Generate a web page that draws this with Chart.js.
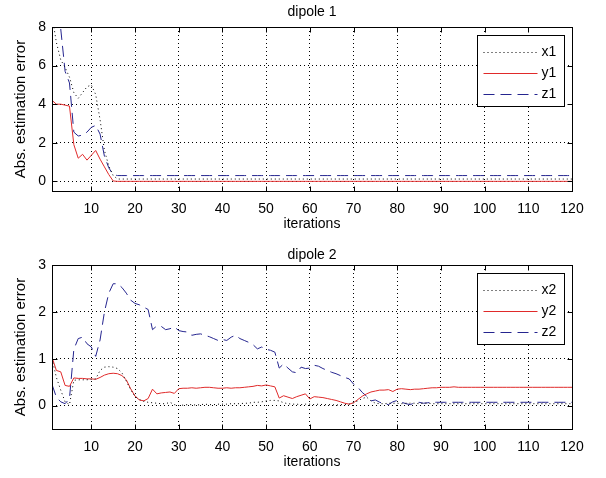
<!DOCTYPE html>
<html>
<head>
<meta charset="utf-8">
<script src="https://cdn.jsdelivr.net/npm/chart.js@4.4.0/dist/chart.umd.min.js"></script>
<style>
  html, body { margin: 0; padding: 0; background: #fff; }
  .panel { position: absolute; left: 0; }
  #p1 { top: 0; }
  #p2 { top: 240px; }
</style>
</head>
<body>
<div class="panel" id="p1"><canvas id="c1" width="606" height="240"></canvas></div>
<div class="panel" id="p2"><canvas id="c2" width="606" height="238"></canvas></div>
<script>
// iteration index (x axis)
const iterations = Array.from({ length: 120 }, (_, k) => k + 1);
const xTicks = [10, 20, 30, 40, 50, 60, 70, 80, 90, 100, 110, 120];

// dipole 1: absolute estimation error per coordinate
const dipole1X = [
  8.6, 7.2, 6.3, 5.9, 5.4, 4.6, 4.3, 4.6, 4.9, 5.0, 4.5, 3.2, 1.6, 0.8, 0.3,
  0.12, 0.12, 0.12, 0.12, 0.12, 0.12, 0.12, 0.12, 0.12, 0.12, 0.12, 0.12, 0.12, 0.12, 0.12,
  0.12, 0.12, 0.12, 0.12, 0.12, 0.12, 0.12, 0.12, 0.12, 0.12, 0.12, 0.12, 0.12, 0.12, 0.12,
  0.12, 0.12, 0.12, 0.12, 0.12, 0.12, 0.12, 0.12, 0.12, 0.12, 0.12, 0.12, 0.12, 0.12, 0.12,
  0.12, 0.12, 0.12, 0.12, 0.12, 0.12, 0.12, 0.12, 0.12, 0.12, 0.12, 0.12, 0.12, 0.12, 0.12,
  0.12, 0.12, 0.12, 0.12, 0.12, 0.12, 0.12, 0.12, 0.12, 0.12, 0.12, 0.12, 0.12, 0.12, 0.12,
  0.12, 0.12, 0.12, 0.12, 0.12, 0.12, 0.12, 0.12, 0.12, 0.12, 0.12, 0.12, 0.12, 0.12, 0.12,
  0.12, 0.12, 0.12, 0.12, 0.12, 0.12, 0.12, 0.12, 0.12, 0.12, 0.12, 0.12, 0.12, 0.12, 0.12
];
const dipole1Y = [
  4.2, 4.0, 4.0, 3.95, 3.9, 1.9, 1.2, 1.4, 1.1, 1.35, 1.6, 1.15, 0.75, 0.35, 0.02,
  0, 0, 0, 0, 0, 0, 0, 0, 0, 0, 0, 0, 0, 0, 0,
  0, 0, 0, 0, 0, 0, 0, 0, 0, 0, 0, 0, 0, 0, 0,
  0, 0, 0, 0, 0, 0, 0, 0, 0, 0, 0, 0, 0, 0, 0,
  0, 0, 0, 0, 0, 0, 0, 0, 0, 0, 0, 0, 0, 0, 0,
  0, 0, 0, 0, 0, 0, 0, 0, 0, 0, 0, 0, 0, 0, 0,
  0, 0, 0, 0, 0, 0, 0, 0, 0, 0, 0, 0, 0, 0, 0,
  0, 0, 0, 0, 0, 0, 0, 0, 0, 0, 0, 0, 0, 0, 0
];
const dipole1Z = [
  10.5, 9.5, 7.9, 5.7, 5.1, 2.55, 2.35, 2.4, 2.55, 2.8, 2.9, 2.45, 1.3, 0.7, 0.35,
  0.3, 0.3, 0.3, 0.3, 0.3, 0.3, 0.3, 0.3, 0.3, 0.3, 0.3, 0.3, 0.3, 0.3, 0.3,
  0.3, 0.3, 0.3, 0.3, 0.3, 0.3, 0.3, 0.3, 0.3, 0.3, 0.3, 0.3, 0.3, 0.3, 0.3,
  0.3, 0.3, 0.3, 0.3, 0.3, 0.3, 0.3, 0.3, 0.3, 0.3, 0.3, 0.3, 0.3, 0.3, 0.3,
  0.3, 0.3, 0.3, 0.3, 0.3, 0.3, 0.3, 0.3, 0.3, 0.3, 0.3, 0.3, 0.3, 0.3, 0.3,
  0.3, 0.3, 0.3, 0.3, 0.3, 0.3, 0.3, 0.3, 0.3, 0.3, 0.3, 0.3, 0.3, 0.3, 0.3,
  0.3, 0.3, 0.3, 0.3, 0.3, 0.3, 0.3, 0.3, 0.3, 0.3, 0.3, 0.3, 0.3, 0.3, 0.3,
  0.3, 0.3, 0.3, 0.3, 0.3, 0.3, 0.3, 0.3, 0.3, 0.3, 0.3, 0.3, 0.3, 0.3, 0.3
];

// dipole 2: absolute estimation error per coordinate
const dipole2X = [
  1.0, 0.6, 0.33, 0.08, 0.02, 0.54, 0.55, 0.55, 0.55, 0.56,
  0.57, 0.75, 0.82, 0.83, 0.82, 0.79, 0.7, 0.52, 0.34, 0.2,
  0.13, 0.09, 0.07, 0.06, 0.05, 0.04, 0.04, 0.07, 0.02, 0.0,
  0.01, 0.02, 0.02, 0.01, 0.02, 0.03, 0.02, 0.02, 0.03, 0.03,
  0.03, 0.04, 0.04, 0.04, 0.05, 0.05, 0.07, 0.07, 0.08, 0.1,
  0.11, 0.11, 0.1, 0.06, 0.04, 0.03, 0.03, 0.02, 0.03, 0.03,
  0.02, 0.03, 0.02, 0.02, 0.02, 0.01, 0.02, 0.02, 0.03, 0.06,
  0.1, 0.15, 0.18, 0.1, 0.05, 0.04, 0.04, 0.05, 0.05, 0.05,
  0.04, 0.05, 0.05, 0.05, 0.04, 0.05, 0.05, 0.04, 0.04, 0.04,
  0.04, 0.04, 0.04, 0.04, 0.04, 0.04, 0.04, 0.04, 0.04, 0.04,
  0.04, 0.04, 0.04, 0.04, 0.04, 0.04, 0.04, 0.04, 0.04, 0.04,
  0.04, 0.04, 0.04, 0.04, 0.04, 0.04, 0.04, 0.04, 0.04, 0.04
];
const dipole2Y = [
  1.03, 0.75, 0.72, 0.43, 0.41, 0.59, 0.58, 0.58, 0.57, 0.57,
  0.56, 0.6, 0.65, 0.68, 0.69, 0.68, 0.64, 0.55, 0.36, 0.2,
  0.12, 0.1, 0.15, 0.35, 0.25, 0.27, 0.28, 0.29, 0.26, 0.36,
  0.37, 0.37, 0.38, 0.37, 0.38, 0.39, 0.39, 0.38, 0.37, 0.37,
  0.38, 0.37, 0.38, 0.38, 0.39, 0.40, 0.41, 0.43, 0.42, 0.44,
  0.42, 0.40, 0.16, 0.21, 0.18, 0.15, 0.19, 0.22, 0.25, 0.14,
  0.19, 0.18, 0.17, 0.15, 0.13, 0.11, 0.08, 0.05, 0.03, 0.06,
  0.13, 0.2, 0.25, 0.29, 0.31, 0.33, 0.33, 0.34, 0.3, 0.35,
  0.36, 0.35, 0.34, 0.35, 0.35, 0.36, 0.37, 0.38, 0.38, 0.39,
  0.39, 0.39, 0.4, 0.39, 0.39, 0.39, 0.39, 0.39, 0.39, 0.39,
  0.39, 0.39, 0.39, 0.39, 0.39, 0.39, 0.39, 0.39, 0.39, 0.39,
  0.39, 0.39, 0.39, 0.39, 0.39, 0.39, 0.39, 0.39, 0.39, 0.39
];
const dipole2Z = [
  0.45, 0.18, 0.08, 0.04, 0.15, 1.2, 1.43, 1.46, 1.32, 1.25,
  1.05, 1.4, 2.0, 2.4, 2.6, 2.6, 2.52, 2.4, 2.25, 2.18,
  2.15, 2.1, 2.05, 1.62, 1.7, 1.69, 1.62, 1.64, 1.68, 1.6,
  1.58, 1.57, 1.5, 1.52, 1.53, 1.5, 1.47, 1.43, 1.39, 1.41,
  1.39, 1.46, 1.5, 1.43, 1.39, 1.35, 1.3, 1.21, 1.25, 1.2,
  1.18, 1.14, 0.8, 0.89, 0.8, 0.72, 0.7, 0.82, 0.79, 0.8,
  0.86, 0.84, 0.79, 0.75, 0.71, 0.68, 0.64, 0.6, 0.57, 0.46,
  0.39, 0.28, 0.2, 0.1, 0.12, 0.07, 0.04, 0.02, 0.08, 0.11,
  0.07, 0.04, 0.02, 0.06, 0.07, 0.05, 0.06, 0.07, 0.07, 0.07,
  0.07, 0.07, 0.07, 0.07, 0.07, 0.07, 0.07, 0.07, 0.07, 0.07,
  0.07, 0.07, 0.07, 0.07, 0.07, 0.07, 0.07, 0.07, 0.07, 0.07,
  0.07, 0.07, 0.07, 0.07, 0.07, 0.07, 0.07, 0.07, 0.07, 0.07
];

const FONT = '"Liberation Sans", Arial, sans-serif';
Chart.defaults.font.family = FONT;
Chart.defaults.font.size = 14;
Chart.defaults.color = '#000';

const LINE_COLORS = ['#000000', '#e02a2a', '#25258f'];
const LINE_DASHES = [[1, 3], [], [11, 6]];

// boxed axes with inward ticks on all four sides, plus a framed legend
const boxedAxes = {
  id: 'boxedAxes',
  afterDatasetsDraw(chart) {
    const { ctx, chartArea: a, scales } = chart;
    const L = Math.round(a.left) + 0.5, R = Math.round(a.right) + 0.5;
    const T = Math.round(a.top) + 0.5, B = Math.round(a.bottom) + 0.5;
    ctx.save();
    ctx.setLineDash([]);
    ctx.strokeStyle = '#000';
    ctx.lineWidth = 1;
    ctx.strokeRect(L, T, R - L, B - T);
    ctx.beginPath();
    scales.x.ticks.forEach(t => {
      const px = Math.round(scales.x.getPixelForValue(t.value)) + 0.5;
      ctx.moveTo(px, B); ctx.lineTo(px, B - 5);
      ctx.moveTo(px, T); ctx.lineTo(px, T + 5);
    });
    scales.y.ticks.forEach(t => {
      const py = Math.round(scales.y.getPixelForValue(t.value)) + 0.5;
      ctx.moveTo(L, py); ctx.lineTo(L + 5, py);
      ctx.moveTo(R, py); ctx.lineTo(R - 5, py);
    });
    ctx.stroke();

    // legend
    const bw = 87, bh = 71;
    const bx = Math.round(a.right) - 95 + 0.5, by = Math.round(a.top) + 8 + 0.5;
    ctx.fillStyle = '#fff';
    ctx.fillRect(bx, by, bw, bh);
    ctx.strokeStyle = '#000';
    ctx.strokeRect(bx, by, bw, bh);
    ctx.font = '14px ' + FONT;
    ctx.textBaseline = 'middle';
    ctx.textAlign = 'left';
    chart.data.datasets.forEach((ds, k) => {
      const ry = Math.round(by + 16 + k * 21) + 0.5;
      ctx.strokeStyle = LINE_COLORS[k];
      ctx.lineWidth = 1;
      ctx.setLineDash(LINE_DASHES[k]);
      ctx.beginPath();
      ctx.moveTo(bx + 6, ry); ctx.lineTo(bx + 60, ry);
      ctx.stroke();
      ctx.setLineDash([]);
      ctx.fillStyle = '#000';
      ctx.fillText(ds.label, bx + 64, ry);
    });
    ctx.restore();
  }
};

function makePanel(canvasId, title, titlePad, labels, series, yMin, yMax, yTicks) {
  return new Chart(document.getElementById(canvasId), {
    type: 'line',
    data: {
      labels: iterations,
      datasets: series.map((vals, k) => ({
        label: labels[k],
        data: vals,
        borderColor: LINE_COLORS[k],
        borderDash: LINE_DASHES[k],
        borderWidth: 1,
        pointRadius: 0,
        tension: 0,
        fill: false
      }))
    },
    options: {
      responsive: false,
      animation: false,
      devicePixelRatio: 1,
      layout: { padding: { left: 0, right: 34, top: 0, bottom: 0 } },
      plugins: {
        legend: { display: false },
        tooltip: { enabled: false },
        title: {
          display: true, text: title, fullSize: false,
          padding: titlePad, font: { size: 14, weight: 'normal' }, color: '#000'
        }
      },
      scales: {
        x: {
          type: 'linear', min: 1, max: 120,
          afterBuildTicks: s => { s.ticks = xTicks.map(v => ({ value: v })); },
          afterFit: s => { s.height = 49; },
          grid: { color: '#000', lineWidth: 1, drawTicks: false },
          border: { display: false, dash: [1, 3] },
          ticks: { padding: 10, maxRotation: 0, autoSkip: false, font: { size: 14 } },
          title: { display: true, text: 'iterations', padding: { top: 0, bottom: 7 }, font: { size: 14 } }
        },
        y: {
          type: 'linear', min: yMin, max: yMax,
          afterBuildTicks: s => { s.ticks = yTicks.map(v => ({ value: v })); },
          afterFit: s => { s.width = 52; },
          grid: { color: '#000', lineWidth: 1, drawTicks: false },
          border: { display: false, dash: [1, 3] },
          ticks: { padding: 6, font: { size: 14 } },
          title: { display: true, text: 'Abs. estimation error', padding: { top: 12, bottom: 0 }, font: { size: 15 } }
        }
      }
    },
    plugins: [boxedAxes]
  });
}

makePanel('c1', 'dipole 1', { top: 4, bottom: 6.2 }, ['x1', 'y1', 'z1'],
  [dipole1X, dipole1Y, dipole1Z], -0.5, 8, [0, 2, 4, 6, 8]);
makePanel('c2', 'dipole 2', { top: 7, bottom: 1.2 }, ['x2', 'y2', 'z2'],
  [dipole2X, dipole2Y, dipole2Z], -0.5, 3, [0, 1, 2, 3]);
</script>
</body>
</html>
